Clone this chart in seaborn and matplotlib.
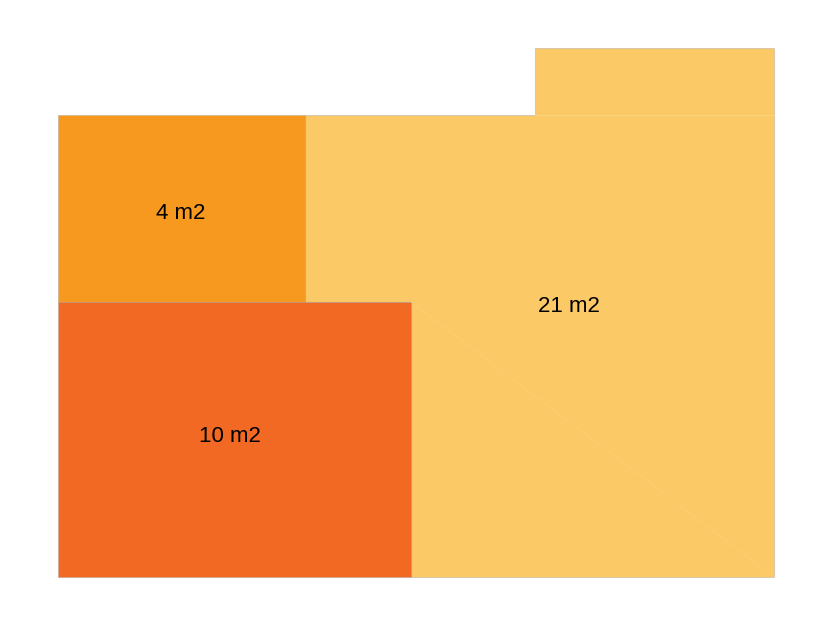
import numpy as np
import pandas as pd
import matplotlib
matplotlib.use('Agg')
import matplotlib.pyplot as plt
import seaborn as sns

# rooms of the floor plan, corners in metres (x to the right, y upwards)
rooms = ['10 m2', '4 m2', '21 m2']
room_10_x = [0.00, 3.53, 3.53, 0.00]
room_10_y = [0.00, 0.00, 2.75, 2.75]
room_4_x = [0.00, 2.47, 2.47, 0.00]
room_4_y = [2.75, 2.75, 4.62, 4.62]
room_21_x = [2.47, 4.77, 4.77, 7.16, 7.16, 3.53, 3.53, 2.47]
room_21_y = [4.62, 4.62, 5.29, 5.29, 0.00, 0.00, 2.75, 2.75]
label_x = [1.72, 1.23, 5.11]
label_y = [1.40, 3.63, 2.70]
room_colors = ['#F26924', '#F8991F', '#FCC967']

sns.set_theme(style='white')
plt.rcParams['font.family'] = ['Liberation Sans', 'DejaVu Sans']

fig = plt.figure(figsize=(8.36, 6.28), dpi=100)
ax = fig.add_axes([0, 0, 1, 1])

# big room first, then the smaller ones on top
order = [2, 1, 0]
xs = [room_10_x, room_4_x, room_21_x]
ys = [room_10_y, room_4_y, room_21_y]
for i in order:
    ax.fill(xs[i], ys[i], facecolor=room_colors[i],
            edgecolor=(0.6, 0.6, 0.6, 0.35), linewidth=0.8, zorder=2)

# faint seams inside the 21 m2 shape
ax.plot([room_21_x[1], room_21_x[4]], [room_21_y[1], room_21_y[1]],
        color='#FDD382', linewidth=0.7, zorder=3)
ax.plot([room_21_x[6], room_21_x[4]], [room_21_y[6], room_21_y[4]],
        color='#FDD07C', linewidth=0.5, zorder=3)

df = pd.DataFrame({'room': rooms, 'x': label_x, 'y': label_y})
for _, r in df.iterrows():
    ax.text(r['x'], r['y'], r['room'], ha='center', va='center',
            fontsize=16, color='black', zorder=5)

ax.set_xlim(-0.58, 7.78)
ax.set_ylim(-0.51, 5.77)
ax.set_axis_off()

fig.savefig('out.png', dpi=100)
